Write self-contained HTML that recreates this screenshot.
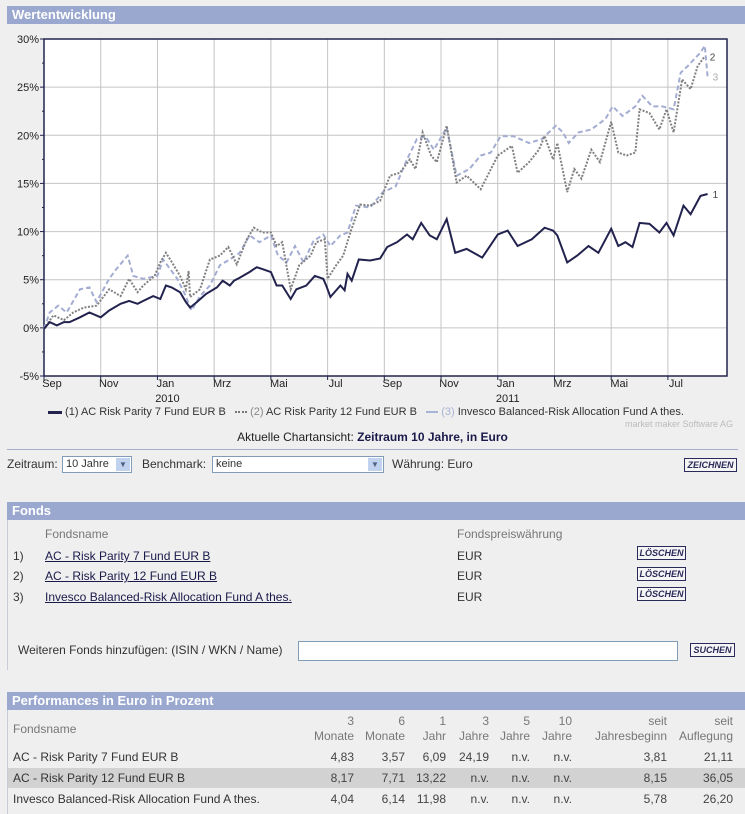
<!DOCTYPE html>
<html><head><meta charset="utf-8">
<style>
body{margin:0;width:745px;height:814px;background:#efefef;font-family:"Liberation Sans",sans-serif;font-size:12px;color:#333;position:relative;overflow:hidden}
.a{position:absolute;white-space:nowrap}
.hdr{position:absolute;left:7px;width:738px;height:18px;background:#9aa8cf;color:#fff;font-weight:bold;font-size:13px;line-height:18px;padding-left:5px;box-sizing:border-box}
.btn{position:absolute;background:#f5f5f5;border:1px solid #2a2a5a;color:#2a2a5a;font-weight:bold;font-style:italic;font-size:9px;line-height:12px;text-align:center;box-sizing:border-box}
.lnk{color:#1a1a4a;text-decoration:underline}
.num{position:absolute;text-align:right;white-space:nowrap;color:#444}
.th{color:#777}
</style></head><body>
<div class="hdr" style="top:6px">Wertentwicklung</div>
<svg class="a" style="left:0;top:0" width="745" height="430" id="chart"></svg>
<div class="a" style="left:48px;top:406px;font-size:11px;color:#333">
<span><span style="display:inline-block;width:14px;border-top:3px solid #22224e;vertical-align:middle"></span> (1) AC Risk Parity 7 Fund EUR B</span>
&nbsp;&nbsp;<span><span style="display:inline-block;width:12px;border-top:2px dotted #777;vertical-align:middle"></span> <span style="color:#888">(2)</span> AC Risk Parity 12 Fund EUR B</span>
&nbsp;&nbsp;<span><span style="display:inline-block;width:12px;border-top:2px dashed #a9b3d4;vertical-align:middle"></span> <span style="color:#a9b3d4">(3)</span> Invesco Balanced-Risk Allocation Fund A thes.</span>
</div>
<div class="a" style="right:12px;top:419px;font-size:9px;color:#bbb">market maker Software AG</div>
<div class="a" style="left:0;width:745px;text-align:center;top:430px;color:#222">Aktuelle Chartansicht: <b style="color:#1a1a4a">Zeitraum 10 Jahre, in Euro</b></div>
<div class="a" style="left:7px;top:449px;width:731px;height:1px;background:#a9b0cc"></div>
<div class="a" style="left:7px;top:457px">Zeitraum:</div>
<div class="a" style="left:62px;top:456px;width:70px;height:17px;background:#fff;border:1px solid #7f9db9;box-sizing:border-box;font-size:11px;line-height:15px;padding-left:3px">10 Jahre<span style="position:absolute;right:1px;top:1px;width:14px;height:13px;background:#c1d2ee;color:#4d6185;font-size:8px;text-align:center;line-height:13px">▼</span></div>
<div class="a" style="left:142px;top:457px">Benchmark:</div>
<div class="a" style="left:212px;top:456px;width:172px;height:17px;background:#fff;border:1px solid #7f9db9;box-sizing:border-box;font-size:11px;line-height:15px;padding-left:3px">keine<span style="position:absolute;right:1px;top:1px;width:14px;height:13px;background:#c1d2ee;color:#4d6185;font-size:8px;text-align:center;line-height:13px">▼</span></div>
<div class="a" style="left:392px;top:457px">Währung: Euro</div>
<div class="btn" style="left:684px;top:458px;width:53px;height:14px">ZEICHNEN</div>

<div class="hdr" style="top:502px">Fonds</div>
<div class="a" style="left:7px;top:520px;width:1px;height:150px;background:#c8cbd8"></div>
<div class="a th" style="left:45px;top:527px">Fondsname</div>
<div class="a th" style="left:457px;top:527px">Fondspreiswährung</div>
<div class="a" style="left:13px;top:549px">1)</div><div class="a lnk" style="left:45px;top:549px">AC - Risk Parity 7 Fund EUR B</div><div class="a" style="left:457px;top:549px">EUR</div>
<div class="btn" style="left:637px;top:546px;width:49px;height:14px">LÖSCHEN</div>
<div class="a" style="left:13px;top:569px">2)</div><div class="a lnk" style="left:45px;top:569px">AC - Risk Parity 12 Fund EUR B</div><div class="a" style="left:457px;top:569px">EUR</div>
<div class="btn" style="left:637px;top:567px;width:49px;height:14px">LÖSCHEN</div>
<div class="a" style="left:13px;top:590px">3)</div><div class="a lnk" style="left:45px;top:590px">Invesco Balanced-Risk Allocation Fund A thes.</div><div class="a" style="left:457px;top:590px">EUR</div>
<div class="btn" style="left:637px;top:587px;width:49px;height:14px">LÖSCHEN</div>
<div class="a" style="left:18px;top:643px">Weiteren Fonds hinzufügen: (ISIN / WKN / Name)</div>
<div class="a" style="left:298px;top:641px;width:380px;height:20px;background:#fff;border:1px solid #7f9db9;box-sizing:border-box"></div>
<div class="btn" style="left:690px;top:643px;width:45px;height:14px">SUCHEN</div>

<div class="hdr" style="top:692px">Performances in Euro in Prozent</div>
<div class="a" style="left:7px;top:710px;width:1px;height:104px;background:#c8cbd8"></div>
<div class="a" style="left:8px;top:768px;width:737px;height:20px;background:#d2d2d2"></div>
<div id="perf"></div>

<script>
const months=[0,2,4,6,8,10,12,14,16,18,20,22];
const monthLabels=["Sep","Nov","Jan","Mrz","Mai","Jul","Sep","Nov","Jan","Mrz","Mai","Jul"];
const yearLabels=["","","2010","","","","","","2011","","",""];
const yTicks=[-5,0,5,10,15,20,25,30];
const s1m=[0,0.2,0.45,0.7,0.9,1.27,1.6,2.0,2.3,2.7,3.0,3.3,3.5,3.85,4.1,4.3,4.5,4.8,5.0,5.15,5.4,5.7,6.1,6.3,6.55,6.7,6.9,7.25,7.5,7.7,8.0,8.2,8.4,8.7,8.9,9.25,9.55,9.85,9.95,10.1,10.45,10.6,10.7,10.85,11.1,11.5,11.85,12.1,12.45,12.8,13.0,13.3,13.6,13.85,14.2,14.5,14.9,15.45,16.0,16.35,16.7,17.2,17.65,17.95,18.1,18.45,18.8,19.2,19.55,20.0,20.25,20.5,20.75,21.0,21.35,21.7,21.95,22.2,22.55,22.8,23.15,23.4];
const s1v=[-0.1,0.6,0.25,0.6,0.6,1.1,1.6,1.1,1.8,2.5,2.8,2.5,2.8,3.3,3.0,4.4,4.2,3.7,2.7,2.1,2.7,3.5,4.2,4.9,4.4,4.9,5.2,5.8,6.3,6.1,5.8,4.4,4.4,3.0,4.0,4.4,5.4,5.1,4.4,3.2,4.4,3.9,5.6,4.9,7.1,7.0,7.2,8.4,8.9,9.7,9.2,10.9,9.6,9.2,11.3,7.8,8.2,7.3,9.7,10.1,8.5,9.2,10.4,10.1,9.6,6.8,7.5,8.5,7.8,10.3,8.5,8.9,8.4,10.9,10.8,9.9,10.9,9.6,12.7,11.8,13.7,13.9];
const s2m=[0,0.33,0.7,1.03,1.4,1.85,2.3,2.7,3.0,3.3,3.5,3.9,4.1,4.3,4.45,4.8,5.0,5.1,5.15,5.5,5.85,6.2,6.5,6.8,7.15,7.4,7.7,8.0,8.2,8.4,8.7,9.0,9.4,9.6,9.9,10.0,10.3,10.55,10.8,11.15,11.5,11.85,12.2,12.55,12.9,13.1,13.35,13.65,13.85,14.2,14.55,14.9,15.4,16.0,16.5,16.7,17.1,17.45,17.65,17.95,18.1,18.45,18.7,18.95,19.3,19.6,20.0,20.25,20.55,20.85,21.0,21.35,21.7,21.95,22.2,22.5,22.8,23.05,23.3];
const s2v=[-0.1,1.3,0.8,1.6,2.1,2.3,4.0,3.3,5.1,3.7,4.4,5.4,6.8,7.8,7.1,5.4,4.0,5.9,3.2,4.0,7.1,7.5,8.4,6.6,9.2,10.4,9.9,9.9,8.5,8.9,4.0,6.5,7.5,8.9,9.2,5.1,6.5,7.5,9.9,12.8,12.7,13.2,15.8,16.1,17.5,16.5,20.3,17.9,17.2,21.0,15.1,15.8,14.4,17.9,18.9,16.1,17.2,18.5,19.9,17.5,19.2,14.1,16.5,15.5,18.5,17.2,21.4,18.2,17.9,18.2,22.7,22.3,20.6,22.7,20.3,25.8,24.8,27.2,28.2];
const s3m=[0,0.2,0.5,0.8,1.27,1.6,1.85,2.3,2.55,2.95,3.15,3.5,4.0,4.2,4.7,5.0,5.2,5.5,5.85,6.2,6.55,6.9,7.25,7.6,8.0,8.25,8.55,8.85,9.15,9.5,9.85,10.1,10.45,10.7,11.0,11.5,11.95,12.4,12.8,13.15,13.45,13.75,14.2,14.55,15.0,15.4,15.75,16.1,16.55,17.1,17.55,18.05,18.3,18.5,18.85,19.3,19.8,20.05,20.4,20.85,21.1,21.45,21.8,22.2,22.45,22.7,23.15,23.3,23.4];
const s3v=[-0.1,1.6,2.3,1.6,4.0,4.2,2.7,5.1,6.1,7.5,5.4,5.1,5.4,7.1,5.1,3.3,1.8,3.3,4.4,6.5,7.1,7.8,9.6,8.9,9.6,7.5,6.8,8.5,6.8,9.0,9.7,8.5,9.6,9.9,12.7,12.5,14.1,14.7,17.5,19.6,19.9,18.5,20.8,15.8,16.5,17.9,18.2,19.9,19.9,19.2,19.6,21.0,20.3,19.2,20.3,20.6,21.7,23.0,22.0,23.0,24.1,23.0,23.0,22.7,26.5,27.2,28.6,29.3,26.1];

const NS="http://www.w3.org/2000/svg";
const svg=document.getElementById('chart');
const L=44,R=727,T=39,B=376,Y0=-5,Y1=30;
function xs(m){return L+m*28.36;}
function ys(v){return B-(v-Y0)/(Y1-Y0)*(B-T);}
function mk(tag,at){const e=document.createElementNS(NS,tag);for(const k in at)e.setAttribute(k,at[k]);svg.appendChild(e);return e;}
const bg=mk('rect',{x:L,y:T,width:R-L,height:B-T,fill:'#fff'});


yTicks.forEach(v=>{
  const g=mk('line',{x1:L,x2:R,y1:ys(v),y2:ys(v),stroke:'#c4c4c4','stroke-width':1});
  
  
  mk('line',{x1:L-4,x2:L,y1:ys(v),y2:ys(v),stroke:'#22224e'});
  if(v<30) mk('line',{x1:L-2,x2:L,y1:ys(v+2.5),y2:ys(v+2.5),stroke:'#22224e'});
  const t=mk('text',{x:L-5,y:ys(v)+4,'text-anchor':'end','font-size':11,fill:'#222','font-family':'Liberation Sans, sans-serif'});
  t.textContent=v+'%';
  
  
});
months.forEach((m,i)=>{
  const g=mk('line',{x1:xs(m),x2:xs(m),y1:T,y2:B,stroke:'#c4c4c4'});
  
  
  mk('line',{x1:xs(m),x2:xs(m),y1:B,y2:B+4,stroke:'#22224e'});
  const t=mk('text',{x:xs(m)+8,y:B+11,'text-anchor':'middle','font-size':11,fill:'#222','font-family':'Liberation Sans, sans-serif'});
  t.textContent=monthLabels[i];
  
  
  if(yearLabels[i]){const y=mk('text',{x:xs(m)+10,y:B+26,'text-anchor':'middle','font-size':11,fill:'#222','font-family':'Liberation Sans, sans-serif'});y.textContent=yearLabels[i];
  
  }
});
const fr=mk('rect',{x:L,y:T,width:R-L,height:B-T,fill:'none',stroke:'#22224e','stroke-width':1.5});


function line(ms,vs,style,name,lbl,lc){
  const d=ms.map((m,i)=>(i?'L':'M')+xs(m).toFixed(1)+','+ys(vs[i]).toFixed(1)).join('');
  const p=mk('path',Object.assign({d:d,fill:'none'},style));
  
  
  const n=ms.length-1;
  const t=mk('text',{x:xs(ms[n])+5,y:ys(vs[n])+4,'font-size':10,fill:lc,'font-family':'Liberation Sans, sans-serif'});
  t.textContent=lbl;
  
  
}
line(s3m,s3v,{stroke:'#a3add2','stroke-width':2,'stroke-dasharray':'5,3'},'series-invesco','3','#aaa');
line(s2m,s2v,{stroke:'#808080','stroke-width':2,'stroke-dasharray':'2,1.5'},'series-risk-parity-12','2','#444');
line(s1m,s1v,{stroke:'#22224e','stroke-width':2},'series-risk-parity-7','1','#444');

// performance table
const cols=[354,405,446,489,530,572,667,733];
const h1=["3","6","1","3","5","10","seit","seit"];
const h2=["Monate","Monate","Jahr","Jahre","Jahre","Jahre","Jahresbeginn","Auflegung"];
const funds=["AC - Risk Parity 7 Fund EUR B","AC - Risk Parity 12 Fund EUR B","Invesco Balanced-Risk Allocation Fund A thes."];
const perf=[["4,83","3,57","6,09","24,19","n.v.","n.v.","3,81","21,11"],["8,17","7,71","13,22","n.v.","n.v.","n.v.","8,15","36,05"],["4,04","6,14","11,98","n.v.","n.v.","n.v.","5,78","26,20"]];
const tb=document.getElementById('perf');
function add(txt,left,top,right,cls,name){
  const d=document.createElement('div');
  d.className=cls;d.textContent=txt;d.style.top=top+'px';
  if(right){d.style.right=(745-left)+'px';}else d.style.left=left+'px';
  
  
  tb.appendChild(d);
}
add('Fondsname',13,722,false,'a th','perf-fondsname-header');
cols.forEach((c,i)=>{add(h1[i],c,714,true,'num th','perf-column-header');add(h2[i],c,729,true,'num th','perf-column-header');});
funds.forEach((f,r)=>{
  const top=750+r*21;
  add(f,13,top,false,'a','perf-fund-name');
  perf[r].forEach((v,i)=>add(v,cols[i],top,true,'num','perf-value'));
});
</script>
</body></html>
